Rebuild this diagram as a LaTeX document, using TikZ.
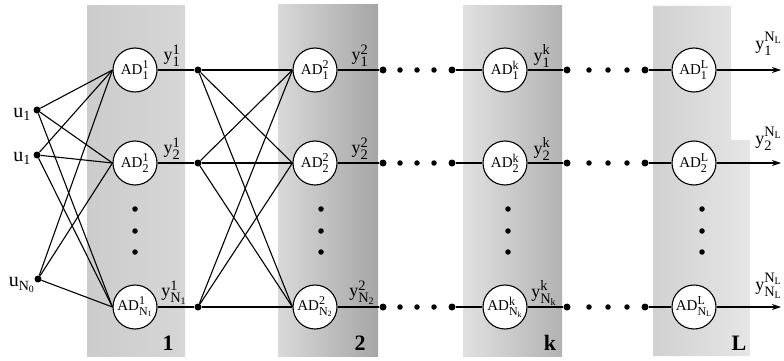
\documentclass[tikz,border=0pt]{standalone}
\usepackage{amsmath}
\usepackage{fontspec}
\setmainfont{Liberation Serif}
\usepackage{relsize}
\usetikzlibrary{arrows.meta}
% upper and lower index, both set in the text font
\newcommand{\ix}[2]{$^{\text{\larger #1}}_{\text{\larger #2}}$}
\newcommand{\Nn}[1]{N$_{\text{#1}}$}
\begin{document}
\begin{tikzpicture}[x=1pt,y=-1pt,
  adnode/.style={circle,draw,line width=1.1pt,fill=white,minimum size=44pt,inner sep=0pt,font=\fontsize{15}{15}\selectfont},
  bigdot/.style={circle,fill=black,inner sep=0pt,minimum size=7pt},
  smalldot/.style={circle,fill=black,inner sep=0pt,minimum size=5.5pt},
  wire/.style={line width=1.1pt},
  lbl/.style={font=\fontsize{18}{18}\selectfont,inner sep=0pt},
  inlbl/.style={font=\fontsize{20}{20}\selectfont,inner sep=0pt,anchor=east},
  tag/.style={font=\fontsize{22}{22}\selectfont\bfseries,inner sep=0pt}]
\useasboundingbox (0,0) rectangle (784,361);

% layer panels
\shade[left color=gray!40,right color=gray!32] (87,6) rectangle (185,356);
\shade[left color=gray!30,right color=gray!70] (278,5) rectangle (378,356);
\shade[left color=gray!24,right color=gray!60] (463,6) rectangle (562,356);
\shade[left color=gray!36,right color=gray!20] (653,6) -- (731,6) -- (731,140) -- (750,140) -- (750,356) -- (653,356) -- cycle;

% inputs
\node[bigdot] (u1) at (37,110) {};
\node[bigdot] (u2) at (37,155) {};
\node[bigdot] (u3) at (38,279) {};
\node[inlbl] (lu1) at (31,114) {u$_{\text{1}}$};
\node[inlbl] (lu2) at (31,158) {u$_{\text{1}}$};
\node[inlbl] (lu3) at (35,285) {u$_{\text{\Nn{0}}}$};

% layer 1
\node[adnode] (a11) at (135,70) {AD\ix{1}{1}};
\node[adnode] (a12) at (135,163) {AD\ix{1}{2}};
\node[adnode] (a1n) at (135,307) {AD\ix{1}{\Nn{1}}};
% layer 2
\node[adnode] (a21) at (315,70) {AD\ix{2}{1}};
\node[adnode] (a22) at (315,163) {AD\ix{2}{2}};
\node[adnode] (a2n) at (315,307) {AD\ix{2}{\Nn{2}}};
% layer k
\node[adnode] (ak1) at (505,70) {AD\ix{k}{1}};
\node[adnode] (ak2) at (505,163) {AD\ix{k}{2}};
\node[adnode] (akn) at (505,307) {AD\ix{k}{\Nn{k}}};
% layer L
\node[adnode] (aL1) at (694,70) {AD\ix{L}{1}};
\node[adnode] (aL2) at (694,163) {AD\ix{L}{2}};
\node[adnode] (aLn) at (694,307) {AD\ix{L}{\Nn{L}}};

% vertical ellipses inside the layers
\foreach \n/\x in {1/135,2/321,k/508,L/702}{
  \node[smalldot] (v\n a) at (\x,209) {};
  \node[smalldot] (v\n b) at (\x,231) {};
  \node[smalldot] (v\n c) at (\x,252) {};
}

% fully connected input stage
\foreach \u in {u1,u2,u3}{
  \foreach \a in {a11,a12,a1n}{
    \draw[wire] (\u) -- (\a.west);
  }
}

% layer 1 outputs and crossing links into layer 2
\node[bigdot] (p1) at (198,70) {};
\node[bigdot] (p2) at (198,163) {};
\node[bigdot] (p3) at (198,307) {};
\draw[wire] (a11.east) -- (p1);
\draw[wire] (a12.east) -- (p2);
\draw[wire] (a1n.east) -- (p3);
\foreach \p in {p1,p2,p3}{
  \foreach \a in {a21,a22,a2n}{
    \draw[wire] (\p) -- (\a.west);
  }
}

% layer 2 to layer k
\foreach \r/\y/\s/\t in {1/70/a21/ak1,2/163/a22/ak2,n/307/a2n/akn}{
  \node[bigdot] (q\r a) at (383,\y) {};
  \node[smalldot] (q\r b) at (400,\y) {};
  \node[smalldot] (q\r c) at (417,\y) {};
  \node[smalldot] (q\r d) at (434,\y) {};
  \node[bigdot] (q\r e) at (452,\y) {};
  \draw[wire] (\s.east) -- (q\r a);
  \draw[wire] (q\r e) -- (\t.west);
}

% layer k to layer L
\foreach \r/\y/\s/\t in {1/70/ak1/aL1,2/163/ak2/aL2,n/307/akn/aLn}{
  \node[bigdot] (s\r a) at (567,\y) {};
  \node[smalldot] (s\r b) at (589,\y) {};
  \node[smalldot] (s\r c) at (608,\y) {};
  \node[smalldot] (s\r d) at (627,\y) {};
  \node[bigdot] (s\r e) at (645,\y) {};
  \draw[wire] (\s.east) -- (s\r a);
  \draw[wire] (s\r e) -- (\t.west);
}

% network outputs
\coordinate (o1) at (781,70);
\coordinate (o2) at (781,163);
\coordinate (o3) at (781,307);
\draw[wire,-{Stealth[length=9pt,width=6pt]}] (aL1.east) -- (o1);
\draw[wire,-{Stealth[length=9pt,width=6pt]}] (aL2.east) -- (o2);
\draw[wire,-{Stealth[length=9pt,width=6pt]}] (aLn.east) -- (o3);

% output labels
\node[lbl] (y11) at (172,56) {y\ix{1}{1}};
\node[lbl] (y12) at (172,149) {y\ix{1}{2}};
\node[lbl] (y1n) at (174,293) {y\ix{1}{\Nn{1}}};
\node[lbl] (y21) at (360,56) {y\ix{2}{1}};
\node[lbl] (y22) at (360,149) {y\ix{2}{2}};
\node[lbl] (y2n) at (362,293) {y\ix{2}{\Nn{2}}};
\node[lbl] (yk1) at (542,56) {y\ix{k}{1}};
\node[lbl] (yk2) at (542,149) {y\ix{k}{2}};
\node[lbl] (ykn) at (544,293) {y\ix{k}{\Nn{k}}};
\node[lbl,anchor=east] (yL1) at (782,44) {y\ix{\Nn{L}}{1}};
\node[lbl,anchor=east] (yL2) at (782,139) {y\ix{\Nn{L}}{2}};
\node[lbl,anchor=east] (yLn) at (782,286) {y\ix{\Nn{L}}{\Nn{L}}};

% layer numbers
\node[tag] (t1) at (168,343) {1};
\node[tag] (t2) at (360,343) {2};
\node[tag] (tk) at (550,343) {k};
\node[tag] (tL) at (739,343) {L};
\end{tikzpicture}
\end{document}
